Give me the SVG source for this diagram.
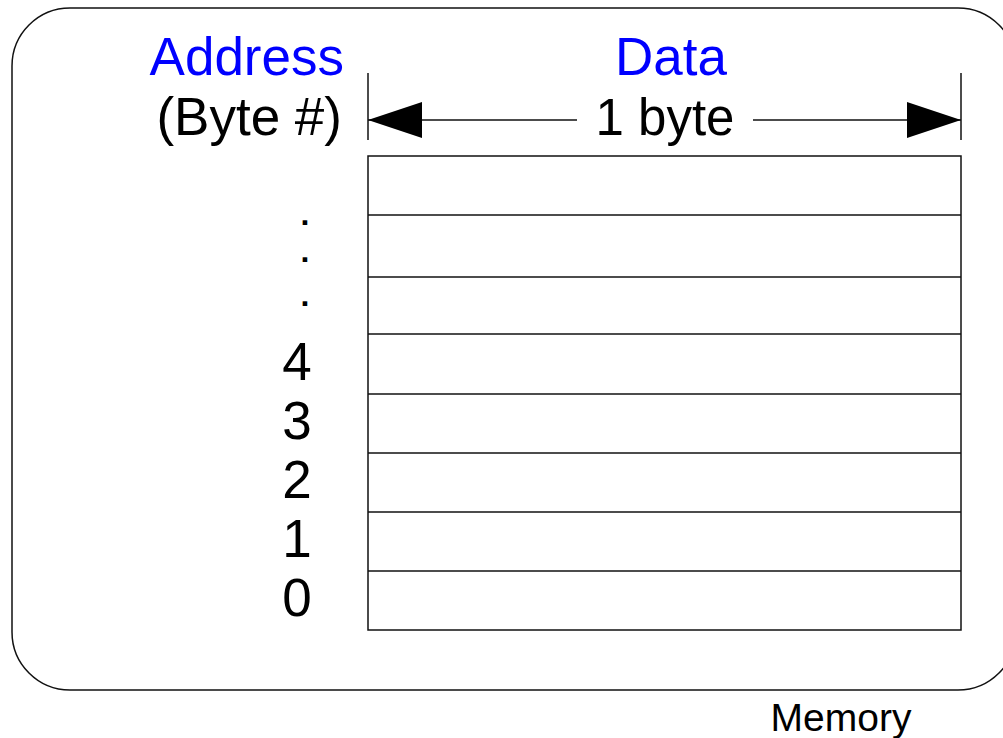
<svg xmlns="http://www.w3.org/2000/svg" width="1003" height="738" viewBox="0 0 1003 738">
<style>
.t{font-family:"Liberation Sans",Arial,sans-serif;font-size:53px;fill:#000}
.d{font-family:"Liberation Sans",Arial,sans-serif;font-size:32px;font-weight:bold;fill:#000}
.b{fill:#0000ff}
.ln{stroke:#111;stroke-width:1.5;fill:none}
</style>
<defs>
<marker id="ah" markerWidth="54" markerHeight="36" refX="54" refY="18" orient="auto-start-reverse" markerUnits="userSpaceOnUse">
<path d="M0,0 L54,18 L0,36 Z" fill="#000"/>
</marker>
</defs>
<g id="memory-frame">
<rect x="12" y="8" width="1004" height="682" rx="58" ry="58" class="ln"/>
<text x="841" y="731" text-anchor="middle" style="font-family:'Liberation Sans',Arial,sans-serif;font-size:39px">Memory</text>
</g>
<g id="headers">
<text class="t b" x="344" y="75" text-anchor="end">Address</text>
<text class="t" x="342" y="135" text-anchor="end">(Byte #)</text>
<text class="t b" x="671" y="75" text-anchor="middle">Data</text>
<text class="t" x="665" y="135" text-anchor="middle" style="font-size:51px">1 byte</text>
</g>
<g id="connectors">
<line class="ln" x1="368" y1="73" x2="368" y2="140"/>
<line class="ln" x1="961" y1="73" x2="961" y2="140"/>
<line class="ln" x1="577" y1="120" x2="368" y2="120" marker-end="url(#ah)"/>
<line class="ln" x1="753" y1="120" x2="961" y2="120" marker-end="url(#ah)"/>
</g>
<g id="cells">
<rect class="ln" x="368" y="156" width="593" height="474"/>
<line class="ln" x1="368" y1="215" x2="961" y2="215"/>
<line class="ln" x1="368" y1="277" x2="961" y2="277"/>
<line class="ln" x1="368" y1="334" x2="961" y2="334"/>
<line class="ln" x1="368" y1="394" x2="961" y2="394"/>
<line class="ln" x1="368" y1="453" x2="961" y2="453"/>
<line class="ln" x1="368" y1="512" x2="961" y2="512"/>
<line class="ln" x1="368" y1="571" x2="961" y2="571"/>
</g>
<g id="addresses">
<text class="d" x="305" y="225" text-anchor="middle">.</text>
<text class="d" x="305" y="262" text-anchor="middle">.</text>
<text class="d" x="305" y="306" text-anchor="middle">.</text>
<text class="t" x="297" y="380" text-anchor="middle">4</text>
<text class="t" x="297" y="439" text-anchor="middle">3</text>
<text class="t" x="297" y="498" text-anchor="middle">2</text>
<text class="t" x="297" y="557" text-anchor="middle">1</text>
<text class="t" x="297" y="616" text-anchor="middle">0</text>
</g>
</svg>
